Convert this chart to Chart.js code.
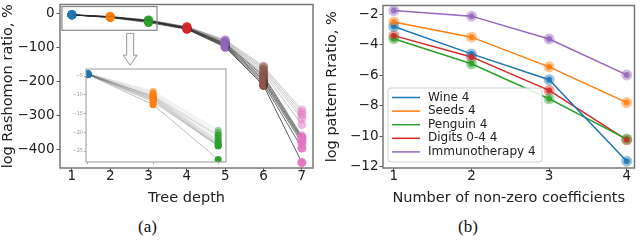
<!DOCTYPE html>
<html>
<head>
<meta charset="utf-8">
<script src="https://cdn.jsdelivr.net/npm/chart.js@4.4.0/dist/chart.umd.min.js"></script>
<style>
body { margin: 0; background: #fff; width: 640px; height: 243px; overflow: hidden; position: relative; }
canvas { position: absolute; }
.cap { position: absolute; top: 217px; font-family: "Liberation Serif", serif; font-size: 17px; color: #111; }
</style>
</head>
<body>
<canvas id="chartA" width="320" height="210" style="left:0;top:0"></canvas>
<canvas id="inset" width="170" height="102" style="left:60px;top:64px"></canvas>
<canvas id="chartB" width="320" height="210" style="left:320px;top:0"></canvas>
<div class="cap" style="left:138px">(a)</div>
<div class="cap" style="left:458px">(b)</div>
<script>
// (a) Rashomon ratio vs tree depth
const depths = [1, 2, 3, 4, 5, 6, 7];
const depthColors = ['#1f77b4', '#ff7f0e', '#2ca02c', '#d62728', '#9467bd', '#8c564b', '#e377c2'];
const rashomonRuns = [
    [-4.2, -9.0, -19.4, -39, -78, -156, -285],
    [-4.3, -9.3, -20.0, -40, -80, -160, -292],
    [-4.3, -9.6, -20.6, -40, -82, -165, -300],
    [-4.4, -9.9, -21.2, -41, -84, -170, -310],
    [-4.4, -10.2, -21.8, -42, -86, -176, -328],
    [-4.4, -10.4, -20.8, -42, -88, -182, -362],
    [-4.4, -10.5, -22.3, -43, -89, -186, -366],
    [-4.5, -10.8, -22.8, -44, -91, -192, -370],
    [-4.5, -11.1, -23.2, -44, -93, -197, -375],
    [-4.5, -11.4, -23.5, -45, -95, -202, -382],
    [-4.6, -11.8, -23.6, -46, -97, -208, -397],
    [-4.6, -12.6, -27.2, -47, -100, -213, -440]
];
const runAlpha = [0.22, 0.22, 0.25, 0.25, 0.28, 0.45, 0.6, 0.6, 0.65, 0.65, 0.7, 0.75];
const yTicksA = [0, -100, -200, -300, -400];
const insetTicks = [-5, -10, -15, -20, -25];

// (b) pattern ratio vs number of non-zero coefficients
const coefCounts = [1, 2, 3, 4];
const seriesNames = ['Wine 4', 'Seeds 4', 'Penguin 4', 'Digits 0-4 4', 'Immunotherapy 4'];
const wine = [-2.8, -4.6, -6.3, -11.65];
const seeds = [-2.5, -3.5, -5.45, -7.8];
const penguin = [-3.6, -5.25, -7.55, -10.2];
const digits = [-3.4, -4.8, -7.0, -10.25];
const immuno = [-1.75, -2.12, -3.62, -5.98];
const yTicksB = [-2, -4, -6, -8, -10, -12];
const seriesColors = ['#1f77b4', '#ff7f0e', '#2ca02c', '#d62728', '#9467bd'];

const minus = v => String(v).replace('-', '\u2212');
const hexA = (hex, a) => {
    const n = parseInt(hex.slice(1), 16);
    return `rgba(${n >> 16},${(n >> 8) & 255},${n & 255},${a})`;
};
// keep chart area where the picture has it: no extra room for edge labels
const noPad = s => { s.paddingTop = 0; s.paddingBottom = 0; s.paddingLeft = 0; s.paddingRight = 0; };

Chart.defaults.font.family = '"DejaVu Sans", sans-serif';
Chart.defaults.color = '#222';
Chart.defaults.animation = false;

const framePlugin = {
    id: 'frame',
    beforeDraw(chart, args, opts) {
        if (!opts.fill) return;
        const a = chart.chartArea, ctx = chart.ctx;
        ctx.save();
        ctx.fillStyle = opts.fill;
        ctx.fillRect(a.left, a.top, a.right - a.left, a.bottom - a.top);
        ctx.restore();
    },
    afterDraw(chart, args, opts) {
        const a = chart.chartArea, ctx = chart.ctx;
        ctx.save();
        ctx.strokeStyle = opts.color || '#777';
        ctx.lineWidth = opts.width || 1.4;
        ctx.strokeRect(a.left, a.top, a.right - a.left, a.bottom - a.top);
        ctx.restore();
    }
};

// zoom box + hollow arrow pointing to the inset
const zoomPlugin = {
    id: 'zoomMark',
    afterDraw(chart) {
        const ctx = chart.ctx, xs = chart.scales.x, ys = chart.scales.y;
        const x0 = xs.getPixelForValue(0.74), x1 = xs.getPixelForValue(3.22);
        const y0 = ys.getPixelForValue(20), y1 = ys.getPixelForValue(-50);
        ctx.save();
        ctx.strokeStyle = '#888';
        ctx.lineWidth = 1.2;
        ctx.strokeRect(x0, y0, x1 - x0, y1 - y0);
        const cx = xs.getPixelForValue(2.52);
        const top = ys.getPixelForValue(-59), tip = ys.getPixelForValue(-153);
        ctx.beginPath();
        ctx.moveTo(cx - 3.5, top);
        ctx.lineTo(cx + 3.5, top);
        ctx.lineTo(cx + 3.5, tip - 10);
        ctx.lineTo(cx + 7, tip - 10);
        ctx.lineTo(cx, tip);
        ctx.lineTo(cx - 7, tip - 10);
        ctx.lineTo(cx - 3.5, tip - 10);
        ctx.closePath();
        ctx.fillStyle = '#fafafa';
        ctx.fill();
        ctx.strokeStyle = '#999';
        ctx.lineWidth = 1;
        ctx.stroke();
        ctx.restore();
    }
};

const runSets = (count, radius, lineFade) => rashomonRuns.map((run, i) => ({
    data: depths.slice(0, count).map((d, k) => ({ x: d, y: run[k] })),
    borderColor: `rgba(40,40,40,${runAlpha[i] * lineFade})`,
    borderWidth: 1,
    pointRadius: radius,
    pointBorderWidth: 0,
    pointBackgroundColor: depthColors.slice(0, count).map(c => hexA(c, Math.min(1, runAlpha[i] + 0.25)))
}));

new Chart(document.getElementById('chartA'), {
    type: 'line',
    data: { datasets: runSets(7, 4.5, 1) },
    options: {
        responsive: false,
        layout: { padding: { top: 4, right: 7, left: 0, bottom: 0 } },
        plugins: { legend: { display: false }, tooltip: { enabled: false }, frame: { color: '#777', width: 1.5 } },
        scales: {
            x: {
                type: 'linear', min: 0.69, max: 7.29,
                afterBuildTicks: s => { s.ticks = depths.map(v => ({ value: v })); },
                afterFit: s => { s.height = 42; noPad(s); },
                grid: { drawOnChartArea: false, color: '#555', tickLength: 3.5 },
                border: { display: false },
                ticks: { font: { size: 13.5 }, padding: -3, maxRotation: 0, callback: v => String(v) },
                title: { display: true, text: 'Tree depth', font: { size: 14.5 }, padding: { top: 0, bottom: 3 } }
            },
            y: {
                min: -456, max: 26,
                afterBuildTicks: s => { s.ticks = yTicksA.map(v => ({ value: v })); },
                afterFit: s => { s.width = 60; noPad(s); },
                grid: { drawOnChartArea: false, color: '#555', tickLength: 3.5 },
                border: { display: false },
                ticks: { font: { size: 13.5 }, padding: 2, callback: v => minus(v) },
                title: { display: true, text: 'log Rashomon ratio, %', font: { size: 14.5 }, padding: { top: 0, bottom: 0 } }
            }
        }
    },
    plugins: [framePlugin, zoomPlugin]
});

new Chart(document.getElementById('inset'), {
    type: 'line',
    data: { datasets: runSets(3, 3.5, 0.4) },
    options: {
        responsive: false,
        layout: { padding: { top: 5, right: 3, left: 0, bottom: 0 } },
        plugins: { legend: { display: false }, tooltip: { enabled: false }, frame: { color: '#999', width: 1, fill: '#fff' } },
        scales: {
            x: {
                type: 'linear', min: 0.97, max: 3.12,
                afterBuildTicks: s => { s.ticks = depths.slice(0, 3).map(v => ({ value: v })); },
                afterFit: s => { s.height = 4; noPad(s); },
                grid: { drawOnChartArea: false, color: '#aaa', tickLength: 2 },
                border: { display: false },
                ticks: { display: false }
            },
            y: {
                min: -27.9, max: -3.1,
                afterBuildTicks: s => { s.ticks = insetTicks.map(v => ({ value: v })); },
                afterFit: s => { s.width = 26; noPad(s); },
                grid: { drawOnChartArea: false, color: '#aaa', tickLength: 2 },
                border: { display: false },
                ticks: { font: { size: 5 }, color: '#999', padding: 1, callback: v => minus(v) }
            }
        }
    },
    plugins: [framePlugin]
});

const bSeries = [wine, seeds, penguin, digits, immuno];

// matplotlib-like legend inside the plot area
const boxLegend = {
    id: 'boxLegend',
    afterDraw(chart) {
        const ctx = chart.ctx, a = chart.chartArea;
        const x0 = a.left + 5, y1 = a.bottom - 6, w = 154, h = 74, y0 = y1 - h;
        ctx.save();
        ctx.beginPath();
        ctx.roundRect(x0, y0, w, h, 3);
        ctx.fillStyle = 'rgba(255,255,255,0.85)';
        ctx.fill();
        ctx.strokeStyle = '#d0d0d0';
        ctx.lineWidth = 1;
        ctx.stroke();
        ctx.font = '12px "DejaVu Sans"';
        ctx.textBaseline = 'middle';
        chart.data.datasets.forEach((ds, i) => {
            const y = y0 + 9.5 + i * 13.6;
            ctx.strokeStyle = ds.borderColor;
            ctx.lineWidth = 1.5;
            ctx.beginPath();
            ctx.moveTo(x0 + 4, y);
            ctx.lineTo(x0 + 32, y);
            ctx.stroke();
            ctx.fillStyle = '#222';
            ctx.fillText(ds.label, x0 + 40, y);
        });
        ctx.restore();
    }
};

// darker centre dot on each marker
const innerDot = {
    id: 'innerDot',
    afterDatasetsDraw(chart) {
        const ctx = chart.ctx;
        chart.data.datasets.forEach((ds, i) => {
            chart.getDatasetMeta(i).data.forEach(pt => {
                ctx.beginPath();
                ctx.arc(pt.x, pt.y, 3, 0, Math.PI * 2);
                ctx.fillStyle = hexA(ds.borderColor, 0.85);
                ctx.fill();
            });
        });
    }
};

new Chart(document.getElementById('chartB'), {
    type: 'line',
    data: {
        datasets: bSeries.map((vals, i) => ({
            label: seriesNames[i],
            data: coefCounts.map((c, k) => ({ x: c, y: vals[k] })),
            borderColor: seriesColors[i],
            borderWidth: 1.5,
            pointRadius: 5.5,
            pointBorderWidth: 0,
            pointBackgroundColor: hexA(seriesColors[i], 0.45)
        }))
    },
    options: {
        responsive: false,
        layout: { padding: { top: 4, right: 5, left: 0, bottom: 0 } },
        plugins: { legend: { display: false }, tooltip: { enabled: false }, frame: { color: '#777', width: 1.5 } },
        scales: {
            x: {
                type: 'linear', min: 0.86, max: 4.1,
                afterBuildTicks: s => { s.ticks = coefCounts.map(v => ({ value: v })); },
                afterFit: s => { s.height = 42; noPad(s); },
                grid: { drawOnChartArea: false, color: '#555', tickLength: 3.5 },
                border: { display: false },
                ticks: { font: { size: 13.5 }, padding: -3, maxRotation: 0, callback: v => String(v) },
                title: { display: true, text: 'Number of non-zero coefficients', font: { size: 14.5 }, padding: { top: 0, bottom: 3 } }
            },
            y: {
                min: -12.1, max: -1.42,
                afterBuildTicks: s => { s.ticks = yTicksB.map(v => ({ value: v })); },
                afterFit: s => { s.width = 63; noPad(s); },
                grid: { drawOnChartArea: false, color: '#555', tickLength: 3.5 },
                border: { display: false },
                ticks: { font: { size: 13.5 }, padding: 1, callback: v => minus(v) },
                title: { display: true, text: 'log pattern Rratio, %', font: { size: 14.5 }, padding: { top: 4, bottom: 0 } }
            }
        }
    },
    plugins: [framePlugin, boxLegend, innerDot]
});
</script>
</body>
</html>
